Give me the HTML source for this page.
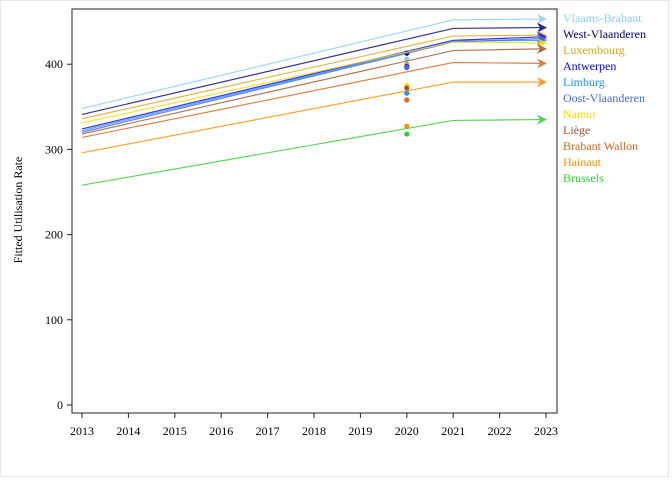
<!DOCTYPE html>
<html><head><meta charset="utf-8"><style>
body{margin:0;background:#fff;}
svg text{font-family:"Liberation Serif",serif;}
</style></head><body>
<svg id="chart" width="672" height="480" xmlns="http://www.w3.org/2000/svg">
<rect x="0.5" y="0.5" width="668" height="476" fill="#fff" stroke="#e6e6e6"/>
<rect x="72" y="9" width="485" height="404" fill="none" stroke="#222"/>
<text x="0" y="0" transform="translate(22,210) rotate(-90)" text-anchor="middle" font-size="12">Fitted Utilisation Rate</text>
<g id="axes"></g><g id="series"></g><g id="legend"></g>
</svg>
<script>
const years=[2013,2014,2015,2016,2017,2018,2019,2020,2021,2022,2023];
const yTicks=[0,100,200,300,400];
const regions=["Vlaams-Brabant","West-Vlaanderen","Luxembourg","Antwerpen","Limburg","Oost-Vlaanderen","Namur","Liège","Brabant Wallon","Hainaut","Brussels"];
const colors=["#87CEFA","#000080","#DAA520","#0000FF","#1E90FF","#4169E1","#FFD700","#A0522D","#D2691E","#FF8C00","#32CD32"];
const fit2013=[348,341,336,324,322,320,331,318,314,296,258];
const fit2021=[452,442,433,428,427,426,426,416,402,379,334];
const fit2023=[453,443,434,432,428,430,425,418,401,379,335];
const obs2020=[406,413,400,397,366,396,375,372,358,327,318];
const NS="http://www.w3.org/2000/svg";
const xs=y=>82+(y-2013)*46.4;
const ys=v=>405-v*0.852;
function mk(t,a,p){const e=document.createElementNS(NS,t);for(const k in a)e.setAttribute(k,a[k]);p.appendChild(e);return e;}
const ax=document.getElementById('axes');
years.forEach(y=>{
 const l=mk('line',{x1:xs(y),x2:xs(y),y1:413,y2:418,stroke:'#222'},ax);
 
 
 const t=mk('text',{x:xs(y),y:435,'text-anchor':'middle','font-size':'12'},ax);t.textContent=y;
 
 
});
yTicks.forEach(v=>{
 const l=mk('line',{x1:67,x2:72,y1:ys(v),y2:ys(v),stroke:'#222'},ax);
 
 
 const t=mk('text',{x:63,y:ys(v)+4,'text-anchor':'end','font-size':'12'},ax);t.textContent=v;
 
 
});
const sg=document.getElementById('series'),lg=document.getElementById('legend');
regions.forEach((r,i)=>{
 const c=colors[i];
 const x0=xs(2013),x1=xs(2021),x2=xs(2023);
 const pl=mk('polyline',{points:`${x0},${ys(fit2013[i])} ${x1},${ys(fit2021[i])} ${x2-6},${ys(fit2023[i])}`,fill:'none',stroke:c,'stroke-width':'1.2','stroke-opacity':'0.8'},sg);
 
 
 const ay=ys(fit2023[i]);
 const ar=mk('polygon',{points:`${x2-9},${ay-5} ${x2+1},${ay} ${x2-9},${ay+5} ${x2-6},${ay}`,fill:c,'fill-opacity':'0.85'},sg);
 
 
 const pt=mk('circle',{cx:xs(2020),cy:ys(obs2020[i]),r:2.6,fill:c},sg);
 
 
 const t=mk('text',{x:563,y:22+i*16,'font-size':'12',fill:c},lg);t.textContent=r;
 
 
});
</script>
</body></html>
